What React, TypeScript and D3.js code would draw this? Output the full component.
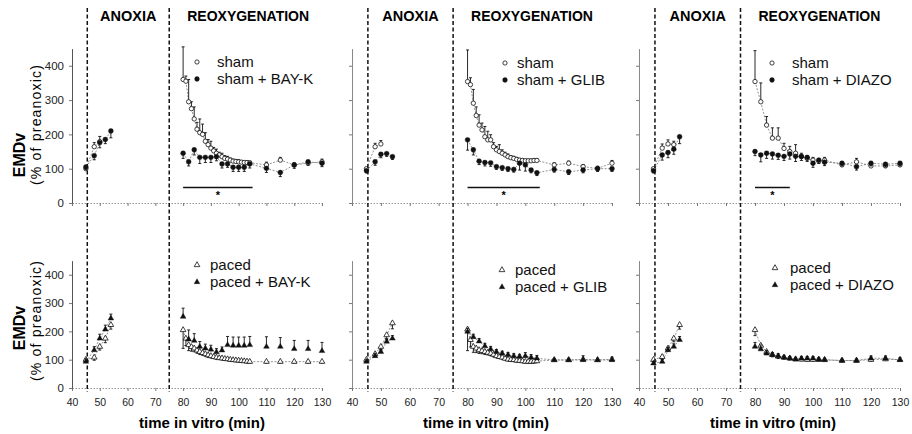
import * as d3 from "d3";
import { useRef, useEffect } from "react";

const width = 912;
const height = 434;
const font = "'Liberation Sans', Arial, Helvetica, sans-serif";

// time points (min in vitro)
const timeAnoxia = [45, 48, 50, 52, 54];
const timeReox = [80, 82, 84, 86, 88, 90, 92, 94, 96, 98, 100, 102, 104, 110, 115, 120, 125, 130];
const timeReoxFine = [80, 81, 82, 83, 84, 85, 86, 87, 88, 89, 90, 91, 92, 93, 94, 95, 96, 97, 98, 99, 100, 101, 102, 103, 104, 110, 115, 120, 125, 130];
const xTicks = [40, 50, 60, 70, 80, 90, 100, 110, 120, 130];
const yTicks = [0, 100, 200, 300, 400];
const anoxiaStart = 45.5;
const anoxiaEnd = 75;

const drugs = ["BAY-K", "GLIB", "DIAZO"];

// top row: sham (open) vs sham + drug (filled), EMDv % of preanoxic
const shamAnox = [
  [100, 164, 179, null, null],
  [100, 164, 172, null, null],
  [100, 160, 172, 170, null],
];
const shamAnoxErr = [
  [0, 12, 15, 0, 0],
  [0, 10, 10, 0, 0],
  [0, 12, 12, 10, 0],
];
const shamReoxTime = [timeReoxFine, timeReoxFine, timeReox];
const shamReox = [
  [360, 355, 295, 275, 245, 215, 205, 200, 180, 170, 160, 152, 145, 140, 135, 130, 128, 125, 122, 121, 120, 119, 118, 118, 117, 111, 125, 111, 116, 120],
  [354, 345, 291, 255, 227, 213, 193, 184, 184, 164, 155, 150, 145, 140, 135, 132, 130, 127, 125, 124, 123, 123, 123, 124, 124, 111, 116, 106, 101, 116],
  [354, 295, 227, 189, 189, 159, 150, 145, 135, 130, 125, 122, 125, 111, 120, 108, 108, 111],
];
const shamReoxErr = [
  [95, 15, 65, 20, 35, 20, 40, 30, 25, 15, 20, 10, 12, 8, 10, 8, 8, 6, 6, 6, 6, 5, 5, 5, 5, 8, 8, 6, 6, 8],
  [92, 20, 40, 25, 30, 20, 30, 25, 15, 12, 10, 20, 10, 8, 8, 6, 6, 6, 5, 5, 5, 5, 5, 5, 5, 6, 6, 6, 6, 8],
  [90, 55, 25, 30, 30, 15, 15, 25, 10, 8, 8, 8, 8, 8, 10, 8, 8, 8],
];
const shamDrugAnox = [
  [105, 138, 176, 185, 210],
  [94, 120, 142, 144, 135],
  [94, 140, 147, 157, 193],
];
const shamDrugAnoxErr = [
  [8, 12, 15, 12, 20],
  [6, 10, 10, 8, 8],
  [6, 15, 15, 15, 20],
];
const shamDrugReox = [
  [145, 120, 155, 133, 133, 133, 135, 114, 114, 104, 104, 104, 114, 101, 89, 111, 120, 116],
  [184, 155, 122, 118, 117, 106, 103, 100, 98, 116, 111, 96, 88, 98, 91, 96, 100, 100],
  [150, 140, 145, 143, 139, 136, 143, 136, 136, 133, 116, 125, 119, 116, 106, 116, 113, 116],
];
const shamDrugReoxErr = [
  [15, 12, 15, 18, 15, 15, 12, 12, 10, 12, 12, 12, 12, 12, 12, 10, 10, 10],
  [30, 15, 10, 10, 10, 8, 8, 8, 8, 20, 18, 8, 8, 8, 8, 8, 8, 8],
  [12, 20, 15, 15, 12, 12, 15, 15, 12, 12, 12, 10, 10, 8, 10, 8, 8, 8],
];

// bottom row: paced (open) vs paced + drug (filled)
const pacedAnox = [
  [100, 108, 146, 175, 223],
  [100, 120, 146, 187, 229],
  [100, 110, 140, 175, 223],
];
const pacedAnoxErr = [
  [8, 10, 12, 15, 15],
  [6, 10, 12, 15, 20],
  [6, 8, 10, 12, 15],
];
const pacedReoxTime = [timeReoxFine, timeReoxFine, timeReox];
const pacedReox = [
  [205, 175, 152, 145, 140, 133, 128, 124, 120, 116, 113, 110, 108, 106, 105, 103, 102, 100, 99, 98, 97, 96, 95, 94, 93, 93, 93, 93, 93, 93],
  [207, 170, 146, 140, 134, 131, 128, 125, 122, 118, 113, 110, 108, 104, 101, 100, 99, 97, 96, 95, 93, 93, 93, 94, 95, 99, 99, 101, 99, 101],
  [205, 150, 128, 118, 112, 108, 105, 102, 101, 100, 100, 100, 100, 97, 97, 100, 102, 100],
];
const pacedReoxErr = [
  [65, 25, 20, 15, 12, 10, 10, 8, 8, 8, 6, 6, 6, 5, 5, 5, 5, 5, 5, 5, 5, 5, 5, 5, 5, 5, 5, 5, 5, 5],
  [75, 25, 20, 15, 12, 10, 10, 8, 8, 8, 6, 6, 6, 5, 5, 5, 5, 5, 5, 5, 5, 5, 5, 5, 5, 5, 5, 5, 5, 5],
  [20, 15, 10, 8, 8, 6, 6, 5, 5, 5, 5, 5, 5, 5, 5, 5, 5, 5],
];
const pacedDrugAnox = [
  [93, 134, 175, 207, 246],
  [93, 113, 128, 164, 175],
  [87, 93, 134, 146, 170],
];
const pacedDrugAnoxErr = [
  [10, 12, 15, 15, 15],
  [6, 8, 8, 10, 10],
  [6, 8, 10, 10, 12],
];
const pacedDrugReox = [
  [252, 172, 167, 146, 140, 136, 127, 133, 152, 150, 150, 150, 152, 146, 146, 138, 138, 131],
  [199, 180, 165, 148, 137, 128, 122, 117, 113, 111, 113, 108, 105, 99, 99, 99, 99, 99],
  [146, 137, 122, 117, 113, 108, 105, 101, 105, 105, 105, 101, 99, 97, 97, 105, 105, 99],
];
const pacedDrugReoxErr = [
  [30, 33, 25, 18, 15, 15, 12, 12, 30, 30, 30, 30, 30, 35, 32, 30, 30, 30],
  [12, 10, 10, 10, 10, 8, 8, 8, 8, 8, 12, 10, 10, 5, 5, 15, 5, 10],
  [15, 15, 10, 8, 8, 6, 6, 6, 6, 6, 6, 6, 6, 5, 5, 8, 8, 8],
];

// significant difference (sham vs sham + drug), min
const sigRange = [
  [80, 105],
  [80, 105],
  [80, 92],
];

// layout
const panelX = [
  [72, 322],
  [352, 612],
  [639, 900],
];
const rowY = [
  [203, 48.6],
  [388, 260.6],
];
const legendPos = [
  [[197, 62, 217], [505, 63, 517], [772, 63, 792]],
  [[197, 265, 210], [502, 270, 515], [775, 268, 790]],
];
const titleX = [202, 486, 773];

function drawSeries(g, x, y, times, vals, errs, shape, filled, errDir, connect) {
  const pts = times.map((t, i) => ({ t, v: vals[i], e: errs[i] })).filter(d => d.v != null);
  if (connect) {
    g.append("path")
      .datum(pts)
      .attr("fill", "none")
      .attr("stroke", "#666")
      .attr("stroke-width", 0.7)
      .attr("stroke-dasharray", "2,1.5")
      .attr("d", d3.line().x(d => x(d.t)).y(d => y(d.v)));
  }
  const eb = g.append("g").attr("stroke", "#111").attr("stroke-width", 0.9);
  pts.filter(d => d.e > 0).forEach(d => {
    const y0 = y(d.v);
    const y1 = y(d.v + errDir * d.e);
    eb.append("line").attr("x1", x(d.t)).attr("x2", x(d.t)).attr("y1", y0).attr("y2", y1);
    eb.append("line").attr("x1", x(d.t) - 1.5).attr("x2", x(d.t) + 1.5).attr("y1", y1).attr("y2", y1);
  });
  const sym = d3.symbol()
    .type(shape === "circle" ? d3.symbolCircle : d3.symbolTriangle)
    .size(shape === "circle" ? (filled ? 19 : 15) : 14);
  g.append("g").selectAll("path").data(pts).join("path")
    .attr("transform", d => `translate(${x(d.t)},${y(d.v)})`)
    .attr("d", sym)
    .attr("fill", filled ? "#111" : "#fff")
    .attr("stroke", "#111")
    .attr("stroke-width", filled ? 0.4 : 0.8);
}

export default function App() {
  const svgRef = useRef(null);

  useEffect(() => {
    const svg = d3.select(svgRef.current);
    svg.selectAll("*").remove();
    svg.append("rect").attr("width", width).attr("height", height).attr("fill", "#fff");

    panelX.forEach((px, i) => {
      const x = d3.scaleLinear().domain([40, 130]).range(px);

      rowY.forEach((ry, r) => {
        const y = d3.scaleLinear().domain([0, 450]).range(ry);
        const g = svg.append("g");

        // x axis
        const gx = g.append("g")
          .attr("transform", `translate(0,${y(0)})`)
          .call(d3.axisBottom(x).tickValues(xTicks).tickSize(3).tickSizeOuter(0).tickPadding(8)
            .tickFormat(r === 1 ? d3.format("d") : () => ""));
        gx.select(".domain").attr("stroke", "#999").attr("stroke-dasharray", "1.5,1.5");
        gx.selectAll(".tick line").attr("stroke", "#777");
        gx.selectAll("text").attr("font-family", font).attr("font-size", 10.5).attr("fill", "#222");

        // y axis
        const gy = g.append("g")
          .attr("transform", `translate(${px[0]},0)`)
          .call(d3.axisLeft(y).tickValues(yTicks).tickSize(3).tickSizeOuter(0).tickPadding(5)
            .tickFormat(i === 0 ? d3.format("d") : () => ""));
        gy.select(".domain").attr("stroke", i === 0 ? "#555" : "#888");
        gy.selectAll(".tick line").attr("stroke", "#777");
        gy.selectAll("text").attr("font-family", font).attr("font-size", 11.5).attr("fill", "#222");

        const ctrlLabel = r === 0 ? "sham" : "paced";
        const shape = r === 0 ? "circle" : "triangle";

        if (r === 0) {
          drawSeries(g, x, y, timeAnoxia, shamAnox[i], shamAnoxErr[i], shape, false, 1, true);
          drawSeries(g, x, y, shamReoxTime[i], shamReox[i], shamReoxErr[i], shape, false, 1, true);
          drawSeries(g, x, y, timeAnoxia, shamDrugAnox[i], shamDrugAnoxErr[i], shape, true, -1, true);
          drawSeries(g, x, y, timeReox, shamDrugReox[i], shamDrugReoxErr[i], shape, true, -1, true);

          // significance bar
          const [s0, s1] = sigRange[i];
          g.append("line")
            .attr("x1", x(s0)).attr("x2", x(s1))
            .attr("y1", y(45)).attr("y2", y(45))
            .attr("stroke", "#111").attr("stroke-width", 1.6);
          g.append("text")
            .attr("x", x((s0 + s1) / 2)).attr("y", y(12))
            .attr("text-anchor", "middle")
            .attr("font-family", font).attr("font-size", 11).attr("font-weight", "bold")
            .text("*");
        } else {
          drawSeries(g, x, y, timeAnoxia, pacedAnox[i], pacedAnoxErr[i], shape, false, -1, true);
          drawSeries(g, x, y, pacedReoxTime[i], pacedReox[i], pacedReoxErr[i], shape, false, -1, true);
          drawSeries(g, x, y, timeAnoxia, pacedDrugAnox[i], pacedDrugAnoxErr[i], shape, true, 1, true);
          drawSeries(g, x, y, timeReox, pacedDrugReox[i], pacedDrugReoxErr[i], shape, true, 1, i !== 0);
        }

        // legend
        const [lx, ly, tx] = legendPos[r][i];
        const sym = d3.symbol().type(shape === "circle" ? d3.symbolCircle : d3.symbolTriangle);
        [false, true].forEach((filled, k) => {
          const yy = ly + k * 17;
          g.append("path")
            .attr("transform", `translate(${lx},${yy})`)
            .attr("d", sym.size(shape === "circle" ? (filled ? 18 : 14) : 14)())
            .attr("fill", filled ? "#111" : "#fff")
            .attr("stroke", "#111")
            .attr("stroke-width", filled ? 0.4 : 0.8);
          g.append("text")
            .attr("x", tx).attr("y", yy + 5)
            .attr("font-family", font).attr("font-size", 15).attr("fill", "#111")
            .text(filled ? `${ctrlLabel} + ${drugs[i]}` : ctrlLabel);
        });

        // y titles
        if (i === 0) {
          const cy = r === 0 ? 155 : 328;
          const sy = r === 0 ? 125 : 321;
          g.append("text")
            .attr("transform", `translate(19,${cy}) rotate(-90)`)
            .attr("text-anchor", "middle").attr("dominant-baseline", "central")
            .attr("font-family", font).attr("font-size", 16).attr("font-weight", "bold")
            .text("EMDv");
          g.append("text")
            .attr("transform", `translate(36,${sy}) rotate(-90)`)
            .attr("text-anchor", "middle").attr("dominant-baseline", "central")
            .attr("font-family", font).attr("font-size", 14)
            .attr("textLength", 120).attr("lengthAdjust", "spacing")
            .text("(% of preanoxic)");
        }

        if (r === 1) {
          g.append("text")
            .attr("x", titleX[i]).attr("y", 428)
            .attr("text-anchor", "middle")
            .attr("font-family", font).attr("font-size", 15).attr("font-weight", "bold")
            .text("time in vitro (min)");
        }
      });

      // anoxia boundaries and headers
      [anoxiaStart, anoxiaEnd].forEach(t => {
        svg.append("line")
          .attr("x1", x(t)).attr("x2", x(t))
          .attr("y1", 8).attr("y2", 392)
          .attr("stroke", "#111").attr("stroke-width", 1.5)
          .attr("stroke-dasharray", "4,2.5");
      });
      svg.append("text")
        .attr("x", (x(anoxiaStart) + x(anoxiaEnd)) / 2).attr("y", 21)
        .attr("text-anchor", "middle")
        .attr("font-family", font).attr("font-size", 14.5).attr("font-weight", "bold")
        .text("ANOXIA");
      svg.append("text")
        .attr("x", x(anoxiaEnd) + 18).attr("y", 21)
        .attr("font-family", font).attr("font-size", 14).attr("font-weight", "bold")
        .text("REOXYGENATION");
    });
  }, []);

  return (
    <svg
      ref={svgRef}
      width={width}
      height={height}
      style={{ position: "absolute", left: 0, top: 0, display: "block" }}
    />
  );
}
